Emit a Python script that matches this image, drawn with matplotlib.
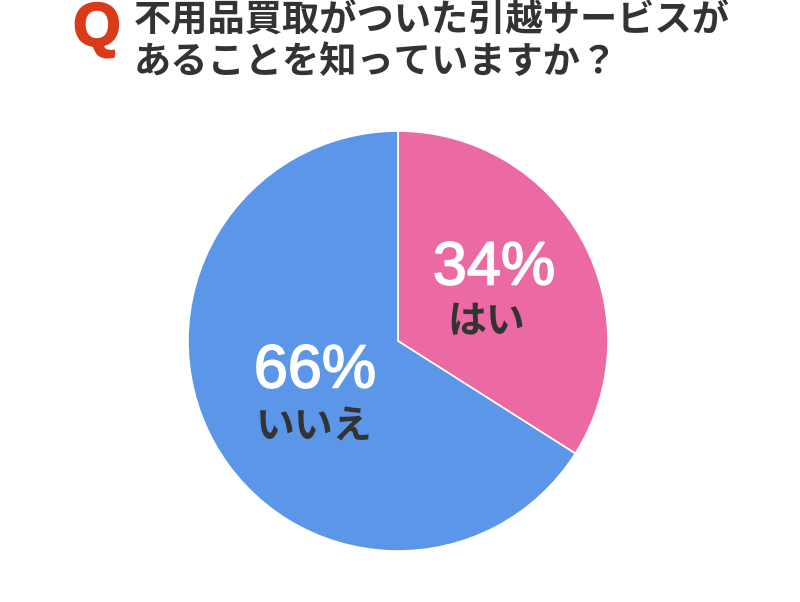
import matplotlib.pyplot as plt
import matplotlib.patheffects as pe

plt.rcParams['font.family'] = ['Noto Sans CJK JP', 'DejaVu Sans']

labels = ['はい', 'いいえ']
values = [34, 66]
colors = ['#ec6aa3', '#5b96e8']
title_lines = ['不用品買取がついた引越サービスが', 'あることを知っていますか？']

fig = plt.figure(figsize=(8, 6.02), dpi=100)

# pie box: center (398, 341) px, radius 210 px
ax = fig.add_axes([(398 - 210) / 800, (602 - 551) / 602, 420 / 800, 420 / 602])
ax.pie(values, colors=colors, startangle=90, counterclock=False, radius=1,
       wedgeprops={'edgecolor': 'white', 'linewidth': 1.2})
ax.set_xlim(-1, 1)
ax.set_ylim(-1, 1)
ax.axis('off')

# label positions in pixels (x, y from top)
pct_pos = [(494, 269), (315, 372)]
lab_pos = [(486, 322), (314, 426)]
for v, lab, (px, py), (lx, ly) in zip(values, labels, pct_pos, lab_pos):
    fig.text(px / 800, 1 - py / 602, f'{v}%', fontsize=44, color='white',
             family='Liberation Sans', ha='center', va='center',
             path_effects=[pe.withStroke(linewidth=1.2, foreground='white')])
    fig.text(lx / 800, 1 - ly / 602, lab, fontsize=28, color='#333333',
             fontweight='bold', ha='center', va='center')

fig.text(97 / 800, 1 - 30 / 602, 'Q', fontsize=44, color='#d93a1a',
         fontweight='bold', family='Liberation Sans', ha='center', va='center',
         path_effects=[pe.withStroke(linewidth=1.5, foreground='#d93a1a')])
for i, line in enumerate(title_lines):
    fig.text(134 / 800, 1 - (20 + 43 * i) / 602, line, fontsize=26.8,
             color='#333333', fontweight='bold', ha='left', va='center')

fig.savefig('out.png', dpi=100, facecolor='white')
